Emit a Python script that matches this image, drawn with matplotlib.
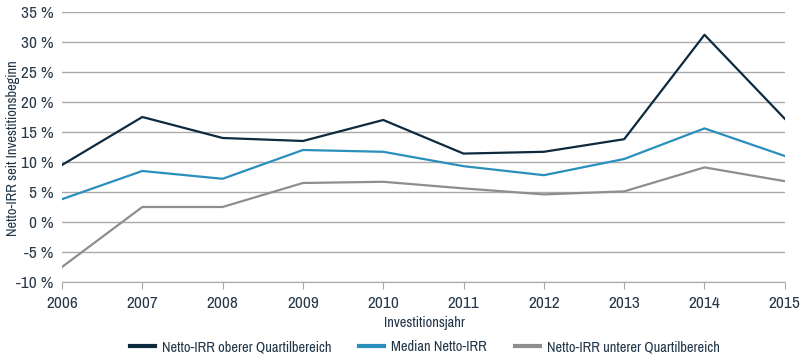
import matplotlib
matplotlib.use("Agg")
import matplotlib.pyplot as plt
from matplotlib.ticker import FuncFormatter

years = [2006, 2007, 2008, 2009, 2010, 2011, 2012, 2013, 2014, 2015]
upper = [9.5, 17.5, 14.0, 13.5, 17.0, 11.4, 11.7, 13.8, 31.2, 17.2]
median = [3.8, 8.5, 7.2, 12.0, 11.7, 9.3, 7.8, 10.5, 15.6, 11.0]
lower = [-7.5, 2.5, 2.5, 6.5, 6.7, 5.6, 4.6, 5.1, 9.1, 6.8]
labels = ["Netto-IRR oberer Quartilbereich", "Median Netto-IRR", "Netto-IRR unterer Quartilbereich"]
yticks = list(range(-10, 36, 5))

plt.rcParams['font.family'] = ['Archivo Narrow', 'DejaVu Sans']

txt = "#1f3447"
tick_fs = 12.5
lab_fs = 10.4
fig = plt.figure(figsize=(8, 3.6), dpi=100)
ax = fig.add_axes([0.0775, 0.2167, 0.9035, 0.75])
ax.plot(years, upper, color="#0d2a3f", lw=1.6, label=labels[0])
ax.plot(years, median, color="#2a8fbd", lw=1.6, label=labels[1])
ax.plot(years, lower, color="#8e8e8e", lw=1.6, label=labels[2])

ax.set_xlim(2006, 2015)
ax.set_ylim(-10, 35)
ax.set_yticks(yticks)
ax.yaxis.set_major_formatter(FuncFormatter(lambda v, p: f"{int(v)} %"))
ax.set_xticks(years)
ax.grid(axis='y', color="#aaaaaa", lw=1)
ax.set_axisbelow(True)
for s in ['top', 'right', 'left']:
    ax.spines[s].set_visible(False)
ax.spines['bottom'].set_color("#aaaaaa")
ax.tick_params(axis='y', length=0, labelsize=tick_fs, labelcolor="#2a3a4a", pad=6)
ax.tick_params(axis='x', length=5, color="#aaaaaa", labelsize=tick_fs, labelcolor="#2a3a4a", pad=5)
ax.set_xlabel("Investitionsjahr", fontsize=lab_fs, color=txt, va='center')
ax.xaxis.set_label_coords(0.501, -0.152)
ax.set_ylabel("Netto-IRR seit Investitionsbeginn", fontsize=lab_fs, color=txt, va='center')
ax.yaxis.set_label_coords(-0.068, 0.494)
leg = fig.legend(loc='center', bbox_to_anchor=(0.531, 0.036), ncol=3, frameon=False,
                 fontsize=lab_fs, handlelength=1.75, handletextpad=0.5, columnspacing=1.9,
                 labelcolor=txt, borderpad=0)
for l in leg.get_lines():
    l.set_linewidth(3)
fig.savefig("out.png", dpi=100)
